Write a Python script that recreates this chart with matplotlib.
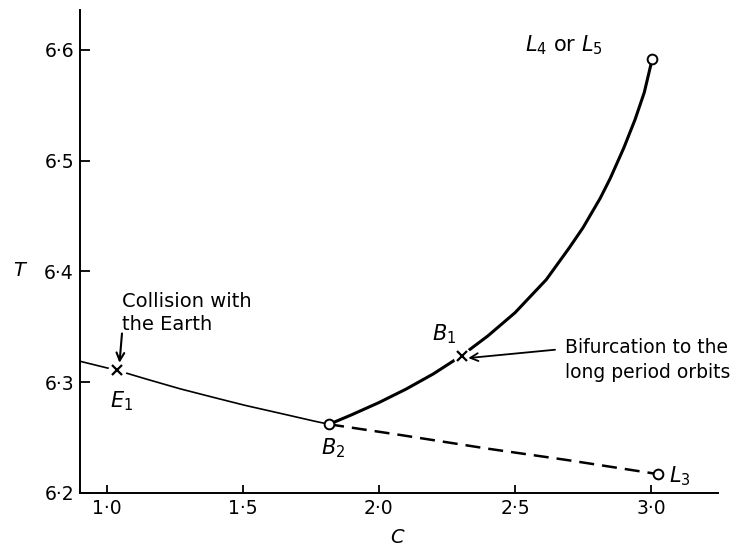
import matplotlib
matplotlib.use("Agg")
import matplotlib.pyplot as plt

plt.rcParams['font.family'] = ['DejaVu Sans']
plt.rcParams['mathtext.fontset'] = 'dejavusans'

# ---- data ----
x_ticks = [1.0, 1.5, 2.0, 2.5, 3.0]
x_ticklabels = ["1·0", "1·5", "2·0", "2·5", "3·0"]
y_ticks = [6.2, 6.3, 6.4, 6.5, 6.6]
y_ticklabels = ["6·2", "6·3", "6·4", "6·5", "6·6"]

# branch from the left edge to B2 (thin solid)
left_C = [0.90, 1.039, 1.15, 1.27, 1.40, 1.51, 1.65, 1.76, 1.817]
left_T = [6.319, 6.3106, 6.3025, 6.294, 6.2858, 6.279, 6.2712, 6.265, 6.262]

# branch B2 -> L4/L5 (thick solid)
upper_C = [1.817, 1.9, 2.0, 2.1, 2.2, 2.304, 2.4, 2.5, 2.615, 2.7, 2.75,
           2.813, 2.85, 2.9, 2.941, 2.975, 3.004]
upper_T = [6.262, 6.2706, 6.2816, 6.2938, 6.3075, 6.324, 6.3417, 6.3627, 6.3926,
           6.4215, 6.4395, 6.466, 6.484, 6.5116, 6.537, 6.5615, 6.5915]

# branch B2 -> L3 (dashed)
lower_C = [1.817, 2.078, 2.40, 2.69, 3.026]
lower_T = [6.262, 6.2524, 6.240, 6.2298, 6.217]

# special points
E1 = (1.039, 6.3106)
B1 = (2.304, 6.324)
B2 = (1.817, 6.262)
L3 = (3.026, 6.217)
L45 = (3.004, 6.5915)

fig = plt.figure(figsize=(7.46, 5.48), dpi=100)
ax = fig.add_axes([0.1066, 0.1004, 0.8559, 0.8814])
ax.set_xlim(0.9, 3.246)
ax.set_ylim(6.2, 6.636)

for s in ['top', 'right']:
    ax.spines[s].set_visible(False)
for s in ['left', 'bottom']:
    ax.spines[s].set_linewidth(1.4)

ax.set_xticks(x_ticks)
ax.set_xticklabels(x_ticklabels)
ax.set_yticks(y_ticks)
ax.set_yticklabels(y_ticklabels)
ax.tick_params(axis='both', direction='in', labelsize=13.5, width=1.3)
ax.tick_params(axis='y', length=7, pad=4)
ax.tick_params(axis='x', length=6, pad=4)

ax.plot(left_C, left_T, color='black', lw=1.2, zorder=2, solid_capstyle='butt')
ax.plot(upper_C, upper_T, color='black', lw=2.2, zorder=2)
ax.plot(lower_C, lower_T, color='black', lw=1.8, dashes=[6, 3.2], zorder=2)

# gaps in the curves around the crosses
ax.plot([E1[0], B1[0]], [E1[1], B1[1]], ls='none', marker='o', ms=13,
        mfc='white', mec='none', zorder=3)
ax.plot([E1[0], B1[0]], [E1[1], B1[1]], ls='none', marker='x', ms=6.5,
        mew=1.6, color='black', zorder=5)

# open circles
ax.plot([B2[0], L3[0], L45[0]], [B2[1], L3[1], L45[1]], ls='none', marker='o',
        ms=7, mfc='white', mec='black', mew=1.4, zorder=6)

# arrows and annotations
ax.annotate("", xy=(1.047, 6.3175), xytext=(1.056, 6.344),
            arrowprops=dict(arrowstyle='->', lw=1.5, color='black',
                            mutation_scale=14, shrinkA=0, shrinkB=0), zorder=6)
ax.text(1.055, 6.3625, "Collision with\nthe Earth", fontsize=14,
        ha='left', va='center', linespacing=1.3)

ax.annotate("", xy=(2.3285, 6.3218), xytext=(2.647, 6.3293),
            arrowprops=dict(arrowstyle='->', lw=1.3, color='black',
                            mutation_scale=14, shrinkA=0, shrinkB=0), zorder=6)
ax.text(2.683, 6.320, "Bifurcation to the\nlong period orbits", fontsize=13.5,
        ha='left', va='center', linespacing=1.35)

ax.text(1.053, 6.283, "$E_1$", fontsize=15, ha='center', va='center')
ax.text(1.83, 6.240, "$B_2$", fontsize=15, ha='center', va='center')
ax.text(2.24, 6.343, "$B_1$", fontsize=15, ha='center', va='center')
ax.text(3.065, 6.215, "$L_3$", fontsize=15, ha='left', va='center')
ax.text(2.535, 6.604, "$L_4$ or $L_5$", fontsize=15, ha='left', va='center')

ax.set_xlabel("C", fontsize=14, fontstyle='italic')
ax.xaxis.set_label_coords(0.497, -0.072)
ax.set_ylabel("T", fontsize=14, fontstyle='italic', rotation=0)
ax.yaxis.set_label_coords(-0.095, 0.44)

fig.savefig("out.png", dpi=100)
